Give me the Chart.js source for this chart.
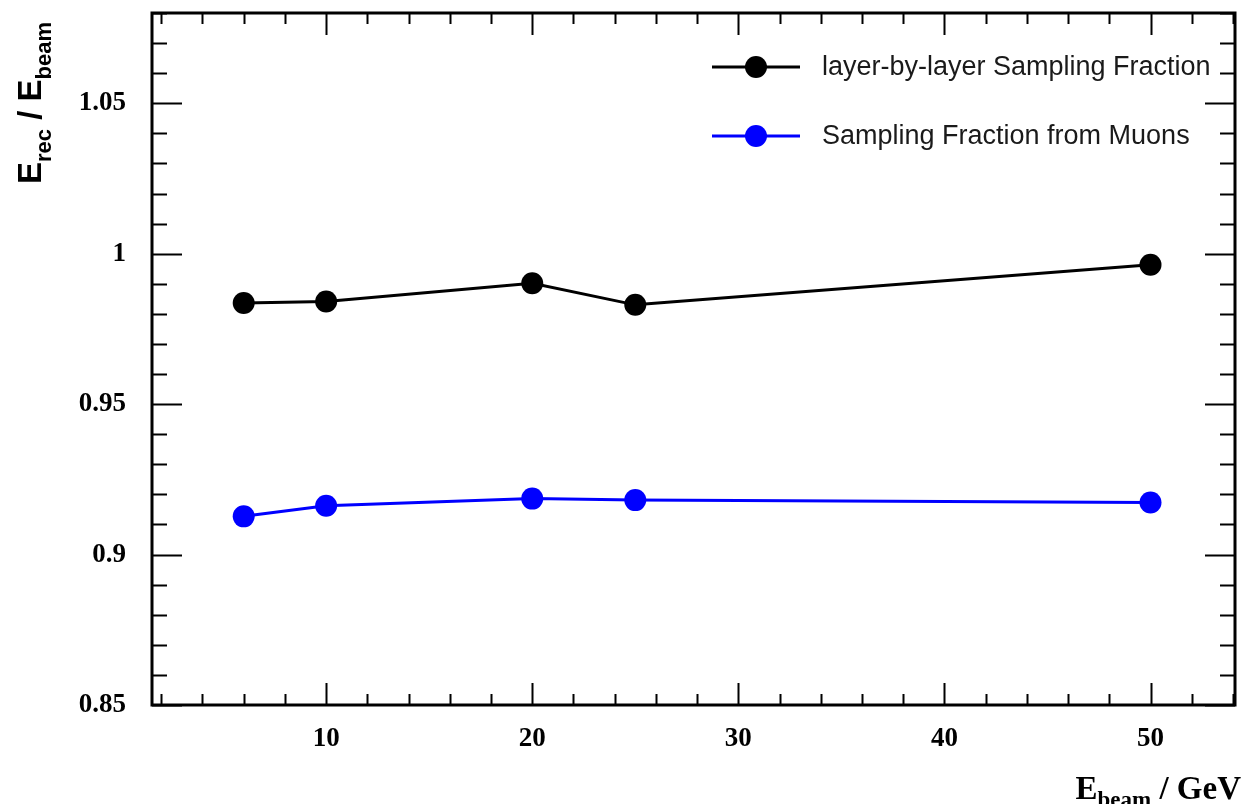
<!DOCTYPE html>
<html>
<head>
<meta charset="utf-8">
<script src="https://cdn.jsdelivr.net/npm/chart.js@4/dist/chart.umd.min.js"></script>
<style>
  html, body { margin: 0; padding: 0; background: #fff; }
  #wrap { width: 1246px; height: 804px; }
</style>
</head>
<body>
<div id="wrap"><canvas id="samplingChart" width="1246" height="804"></canvas></div>
<script>
// beam energies (GeV)
const beamEnergies = [6, 10, 20, 25, 50];
// E_rec / E_beam
const layerByLayer = [0.9836, 0.9841, 0.9902, 0.9830, 0.9963];
const fromMuons = [0.9127, 0.9162, 0.9186, 0.9181, 0.9173];

const xTickValues = [10, 20, 30, 40, 50];
const yTickValues = [0.85, 0.9, 0.95, 1, 1.05];

const seriesNames = ['layer-by-layer Sampling Fraction', 'Sampling Fraction from Muons'];

const SANS = '"Liberation Sans", Arial, sans-serif';
const SERIF = '"Liberation Serif", "Times New Roman", serif';

function toPoints(ys) {
    return beamEnergies.map((x, i) => ({ x: x, y: ys[i] }));
}

// draws text pieces with subscripts, returns total width
function drawRich(ctx, parts, x, y, measureOnly) {
    let cx = x;
    parts.forEach(p => {
        ctx.font = p.font;
        const w = ctx.measureText(p.text).width;
        if (!measureOnly) ctx.fillText(p.text, cx, y + (p.dy || 0));
        cx += w;
    });
    return cx - x;
}

// ROOT-like frame, inward ticks, axis titles and legend
const rootStyle = {
    id: 'rootStyle',
    afterDraw(chart) {
        const ctx = chart.ctx;
        const area = chart.chartArea;
        const xs = chart.scales.x;
        const ys = chart.scales.y;
        ctx.save();

        // ticks
        ctx.strokeStyle = '#000';
        ctx.lineWidth = 2;
        ctx.beginPath();
        for (let v = 2; v <= 54; v += 2) {
            const px = Math.round(xs.getPixelForValue(v)) + 0.5;
            if (px < area.left || px > area.right) continue;
            const len = v % 10 === 0 ? 22 : 11;
            ctx.moveTo(px, area.bottom);
            ctx.lineTo(px, area.bottom - len);
            ctx.moveTo(px, area.top);
            ctx.lineTo(px, area.top + len);
        }
        for (let k = 85; k <= 108; k++) {
            const py = Math.round(ys.getPixelForValue(k / 100)) + 0.5;
            const len = k % 5 === 0 ? 30 : 15;
            ctx.moveTo(area.left, py);
            ctx.lineTo(area.left + len, py);
            ctx.moveTo(area.right, py);
            ctx.lineTo(area.right - len, py);
        }
        ctx.stroke();

        // frame
        ctx.lineWidth = 3;
        ctx.strokeRect(area.left, area.top, area.right - area.left, area.bottom - area.top);

        // y title (rotated)
        ctx.fillStyle = '#000';
        ctx.textBaseline = 'alphabetic';
        ctx.translate(41, 184);
        ctx.rotate(-Math.PI / 2);
        drawRich(ctx, [
            { text: 'E', font: 'bold 33px ' + SANS },
            { text: 'rec', font: 'bold 22px ' + SANS, dy: 10 },
            { text: ' / E', font: 'bold 33px ' + SANS },
            { text: 'beam', font: 'bold 22px ' + SANS, dy: 10 }
        ], 0, 0);
        ctx.setTransform(1, 0, 0, 1, 0, 0);

        // x title (right aligned)
        const xParts = [
            { text: 'E', font: 'bold 33px ' + SERIF },
            { text: 'beam', font: 'bold 23px ' + SERIF, dy: 8 },
            { text: ' / GeV', font: 'bold 33px ' + SERIF }
        ];
        const w = drawRich(ctx, xParts, 0, 0, true);
        drawRich(ctx, xParts, 1241 - w, 799);

        // legend
        const rows = [67, 136];
        chart.data.datasets.forEach((ds, i) => {
            const y = rows[i];
            ctx.strokeStyle = ds.borderColor;
            ctx.fillStyle = ds.backgroundColor;
            ctx.lineWidth = 3;
            ctx.beginPath();
            ctx.moveTo(712, y);
            ctx.lineTo(800, y);
            ctx.stroke();
            ctx.beginPath();
            ctx.arc(756, y, 11, 0, Math.PI * 2);
            ctx.fill();
            ctx.fillStyle = '#1a1a1a';
            ctx.font = '27px ' + SANS;
            ctx.textBaseline = 'middle';
            ctx.fillText(ds.label, 822, y + 1);
        });
        ctx.restore();
    }
};

const ctx = document.getElementById('samplingChart').getContext('2d');
window.chartInstance = new Chart(ctx, {
    type: 'line',
    data: {
        datasets: [
            {
                label: seriesNames[0],
                data: toPoints(layerByLayer),
                borderColor: '#000000',
                backgroundColor: '#000000',
                borderWidth: 3,
                pointRadius: 11,
                pointBorderWidth: 0,
                pointBackgroundColor: '#000000',
                tension: 0
            },
            {
                label: seriesNames[1],
                data: toPoints(fromMuons),
                borderColor: '#0000ff',
                backgroundColor: '#0000ff',
                borderWidth: 3,
                pointRadius: 11,
                pointBorderWidth: 0,
                pointBackgroundColor: '#0000ff',
                tension: 0
            }
        ]
    },
    options: {
        responsive: false,
        devicePixelRatio: 1,
        animation: false,
        layout: { padding: { top: 13, right: 9, left: 0, bottom: 0 } },
        plugins: {
            legend: { display: false },
            tooltip: { enabled: false },
            title: { display: false }
        },
        scales: {
            x: {
                type: 'linear',
                min: 1.55,
                max: 54.1,
                grid: { display: false, drawTicks: false },
                border: { display: false },
                afterBuildTicks: s => { s.ticks = xTickValues.map(v => ({ value: v })); },
                afterFit: s => { s.height = 99; s.paddingLeft = 0; s.paddingRight = 0; },
                ticks: {
                    padding: 18,
                    color: '#000',
                    font: { family: SERIF, size: 27, weight: 'bold' },
                    callback: v => String(v),
                    maxRotation: 0
                }
            },
            y: {
                type: 'linear',
                min: 0.85,
                max: 1.08,
                grid: { display: false, drawTicks: false },
                border: { display: false },
                afterBuildTicks: s => { s.ticks = yTickValues.map(v => ({ value: v })); },
                afterFit: s => { s.width = 152; s.paddingTop = 0; s.paddingBottom = 0; },
                ticks: {
                    padding: 26,
                    color: '#000',
                    font: { family: SERIF, size: 27, weight: 'bold' },
                    callback: v => String(v)
                }
            }
        }
    },
    plugins: [rootStyle]
});
</script>
</body>
</html>
